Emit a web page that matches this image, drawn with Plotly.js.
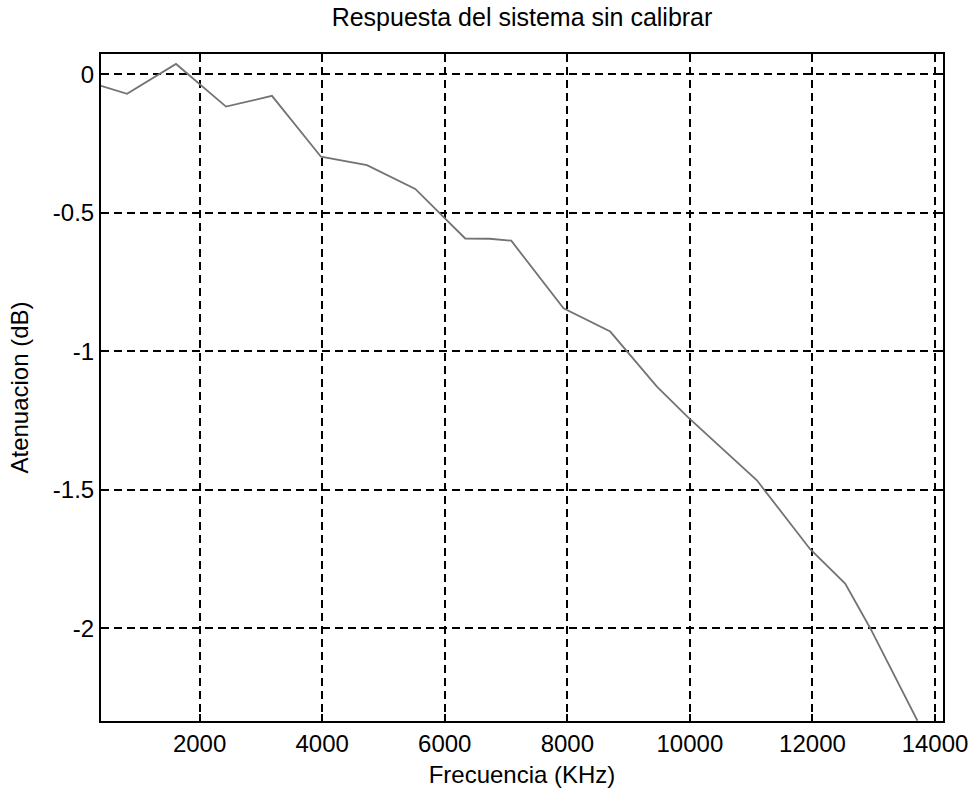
<!DOCTYPE html>
<html>
<head>
<meta charset="utf-8">
<script src="https://cdn.plot.ly/plotly-3.0.1.min.js"></script>
<style>
  html, body { margin: 0; padding: 0; background: #ffffff; }
  #chart { width: 970px; height: 790px; }
</style>
</head>
<body>
<div id="chart"></div>
<script>
// Frequency response of the uncalibrated system
const frecuencia = [391, 816, 1615, 2431, 3181, 3980, 4731, 5519, 6334, 6730, 7085,
                    7938, 8700, 9462, 9967, 10440, 11093, 11963, 12534, 12943, 13350, 13713];
const atenuacion = [-0.042, -0.071, 0.037, -0.117, -0.078, -0.298, -0.328, -0.414, -0.593, -0.594, -0.601,
                    -0.845, -0.929, -1.128, -1.238, -1.333, -1.466, -1.715, -1.839, -2.0, -2.176, -2.334];

const xTicks = [2000, 4000, 6000, 8000, 10000, 12000, 14000];
const xTickText = ['2000', '4000', '6000', '8000', '10000', '12000', '14000'];
const yTicks = [0, -0.5, -1, -1.5, -2];
const yTickText = ['0', '-0.5', '-1', '-1.5', '-2'];

const font = 'Liberation Sans, Arial, sans-serif';

const axisCommon = {
  showline: true,
  linecolor: '#000',
  linewidth: 2,
  mirror: 'ticks',
  ticks: 'inside',
  ticklen: 7,
  tickwidth: 2,
  tickcolor: '#000',
  showgrid: true,
  gridcolor: '#000',
  gridwidth: 2,
  griddash: '8px,5px',
  zeroline: false,
  tickfont: { family: font, size: 24, color: '#000' },
  tickmode: 'array'
};

const trace = {
  x: frecuencia,
  y: atenuacion,
  type: 'scatter',
  mode: 'lines',
  line: { color: '#737373', width: 1.8 },
  hoverinfo: 'skip'
};

const layout = {
  width: 970,
  height: 790,
  margin: { l: 101, r: 27, t: 54, b: 69 },
  paper_bgcolor: '#fff',
  plot_bgcolor: '#fff',
  showlegend: false,
  title: {
    text: 'Respuesta del sistema sin calibrar',
    font: { family: font, size: 25, color: '#000' },
    x: 0.5, xref: 'paper', xanchor: 'center',
    y: 1 - 17 / 790, yref: 'container', yanchor: 'middle'
  },
  xaxis: Object.assign({}, axisCommon, {
    range: [391, 14130],
    tickvals: xTicks,
    ticktext: xTickText,
    title: { text: 'Frecuencia (KHz)', font: { family: font, size: 24, color: '#000' }, standoff: 10 }
  }),
  yaxis: Object.assign({}, axisCommon, {
    range: [-2.335, 0.073],
    tickvals: yTicks,
    ticktext: yTickText,
    title: { text: 'Atenuacion (dB)', font: { family: font, size: 24, color: '#000' }, standoff: 17 }
  })
};

Plotly.newPlot('chart', [trace], layout, { staticPlot: true, displayModeBar: false });
</script>
</body>
</html>
